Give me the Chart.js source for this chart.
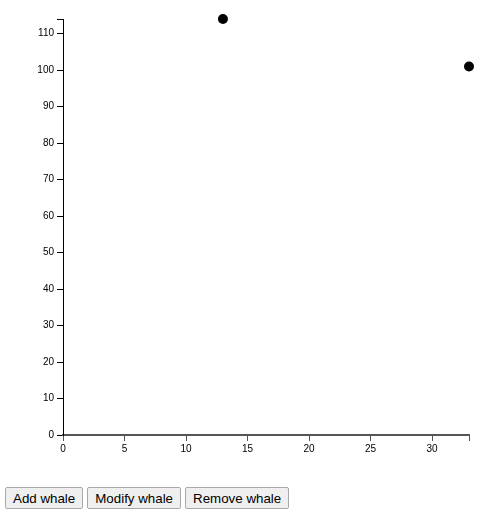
<!DOCTYPE html>
<html>
<head>
<meta charset="utf-8">
<script src="https://cdn.jsdelivr.net/npm/chart.js@4"></script>
<style>
  body { margin: 0; background: #fff; }
  #wrap { position: absolute; left: 0; top: 0; width: 485px; height: 460px; }
  #buttons { position: absolute; left: 5px; top: 487px; }
  #buttons button {
    font-family: "Liberation Sans", Arial, sans-serif;
    font-size: 13.33px;
    color: #000;
    background: #efefef;
    border: 1px solid #a9a9a9;
    border-radius: 2px;
    padding: 1px 7px;
    height: 22px;
    margin: 0 4px 0 0;
  }
</style>
</head>
<body>
<div id="wrap"><canvas id="myChart"></canvas></div>
<div id="buttons">
  <button>Add whale</button><button>Modify whale</button><button>Remove whale</button>
</div>
<script>
// whales: x = age?, y = length? (just two points)
const whaleX = [13, 33];
const whaleY = [114, 101];

const xTicks = [0, 5, 10, 15, 20, 25, 30];
const yTicks = [0, 10, 20, 30, 40, 50, 60, 70, 80, 90, 100, 110];

const xMax = Math.max(...whaleX);
const yMax = Math.max(...whaleY);

const points = whaleX.map((x, i) => ({ x: x, y: whaleY[i] }));

const font = { family: "'Liberation Sans', Arial, sans-serif", size: 10 };

// ticks from the lists + the outer tick at the domain end (no label)
function setTicks(list, max) {
  return function (scale) {
    const t = list.map(v => ({ value: v }));
    if (list.indexOf(max) < 0) t.push({ value: max });
    scale.ticks = t;
  };
}

const ctx = document.getElementById("myChart").getContext("2d");

new Chart(ctx, {
  type: "scatter",
  data: {
    datasets: [{
      data: points,
      backgroundColor: "#000",
      borderWidth: 0,
      pointRadius: 5,
      pointHoverRadius: 5,
      clip: false
    }]
  },
  options: {
    responsive: true,
    maintainAspectRatio: false,
    animation: false,
    layout: { padding: { top: 19, right: 16, left: 0, bottom: 0 } },
    plugins: {
      legend: { display: false },
      tooltip: { enabled: false }
    },
    scales: {
      x: {
        type: "linear",
        min: 0,
        max: xMax,
        afterBuildTicks: setTicks(xTicks, xMax),
        afterFit: s => { s.height = 25; },
        grid: { drawOnChartArea: false, drawTicks: true, tickLength: 6, color: "#555", lineWidth: 1 },
        border: { display: true, color: "#555", width: 2 },
        ticks: {
          font: font,
          color: "#000",
          padding: 2,
          maxRotation: 0,
          autoSkip: false,
          callback: v => xTicks.indexOf(v) >= 0 ? String(v) : ""
        }
      },
      y: {
        type: "linear",
        min: 0,
        max: yMax,
        afterBuildTicks: setTicks(yTicks, yMax),
        afterFit: s => { s.width = 63; },
        grid: { drawOnChartArea: false, drawTicks: true, tickLength: 6, color: "#000", lineWidth: 1 },
        border: { display: true, color: "#000", width: 1 },
        ticks: {
          font: font,
          color: "#000",
          padding: 3,
          autoSkip: false,
          callback: v => yTicks.indexOf(v) >= 0 ? String(v) : ""
        }
      }
    }
  }
});
</script>
</body>
</html>
